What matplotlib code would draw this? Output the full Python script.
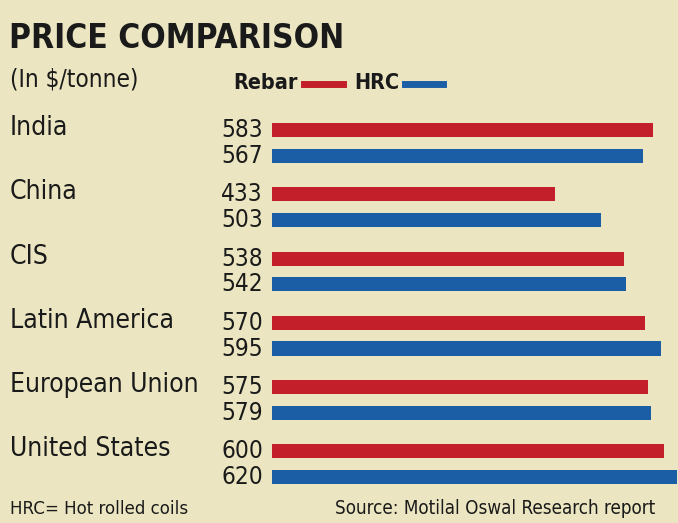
import numpy as np
import matplotlib.pyplot as plt
from matplotlib.transforms import blended_transform_factory

countries = ["India", "China", "CIS", "Latin America", "European Union", "United States"]
rebar = [583, 433, 538, 570, 575, 600]
hrc = [567, 503, 542, 595, 579, 620]

BG = "#ebe6c1"
RED = "#c21f2a"
BLUE = "#1c5ea6"
TXT = "#1a1a1a"

W, H = 678, 523
fig = plt.figure(figsize=(W / 100, H / 100), dpi=100, facecolor=BG)

# axes: x=0 sits at pixel 272, top at px 100, bottom at px 495
ax = fig.add_axes([272 / W, 1 - 495 / H, 1 - 272 / W, 395 / H])
ax.set_facecolor(BG)
ax.set_xlim(0, 621)
ax.set_ylim(5.48, -0.67)
ax.axis("off")

pos = np.arange(len(countries))
off = 0.2
ax.barh(pos - off, rebar, height=0.22, color=RED, align="center")
ax.barh(pos + off, hrc, height=0.22, color=BLUE, align="center")

cond = dict(family=["DejaVu Sans"], stretch="condensed")

tr = blended_transform_factory(fig.transFigure, ax.transData)
for i, name in enumerate(countries):
    ax.text(10 / W, i - off - 0.03, name, transform=tr, ha="left", va="center",
            fontsize=19, color=TXT, **cond)
    ax.text(263 / W, i - off, str(rebar[i]), transform=tr, ha="right", va="center",
            fontsize=17.5, color=TXT, **cond)
    ax.text(263 / W, i + off, str(hrc[i]), transform=tr, ha="right", va="center",
            fontsize=17.5, color=TXT, **cond)

# title block
fig.text(9 / W, 1 - 38 / H, "PRICE COMPARISON", ha="left", va="center",
         fontsize=24, fontweight="bold", color=TXT, **cond)
fig.text(10 / W, 1 - 80 / H, "(In $/tonne)", ha="left", va="center",
         fontsize=17.5, color=TXT, **cond)

# legend
fig.text(233 / W, 1 - 83 / H, "Rebar", ha="left", va="center",
         fontsize=15.5, fontweight="bold", color=TXT, **cond)
fig.add_artist(plt.Line2D([304 / W, 343 / W], [1 - 84 / H] * 2, color=RED, lw=5))
fig.text(354 / W, 1 - 83 / H, "HRC", ha="left", va="center",
         fontsize=15.5, fontweight="bold", color=TXT, **cond)
fig.add_artist(plt.Line2D([405 / W, 443 / W], [1 - 84 / H] * 2, color=BLUE, lw=5))

# footer
fig.text(10 / W, 1 - 509 / H, "HRC= Hot rolled coils", ha="left", va="center",
         fontsize=13.3, color=TXT, **cond)
fig.text(655 / W, 1 - 509 / H, "Source: Motilal Oswal Research report", ha="right",
         va="center", fontsize=13.5, color=TXT, **cond)

fig.savefig("out.png", dpi=100, facecolor=BG)
